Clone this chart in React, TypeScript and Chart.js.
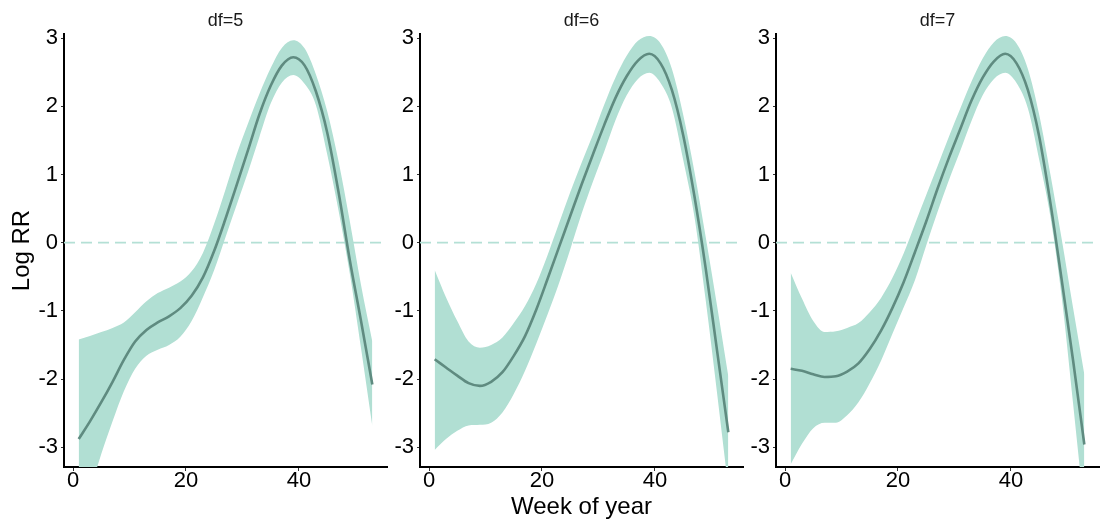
import React, { useEffect, useRef } from "react";
import { Chart, registerables } from "chart.js";

Chart.register(...registerables);

// ---------- data ----------
const WEEKS = [1, 3, 5, 7, 9, 11, 13, 15, 17, 19, 21, 23, 25, 27, 29, 31, 33, 35, 37, 39, 41, 43, 45, 47, 49, 51, 53];

const DF5_FIT = [-2.88, -2.62, -2.34, -2.04, -1.72, -1.45, -1.28, -1.17, -1.08, -0.96, -0.78, -0.51, -0.12, 0.35, 0.85, 1.36, 1.88, 2.3, 2.6, 2.72, 2.6, 2.22, 1.62, 0.75, -0.25, -1.15, -2.08];
const DF5_UPPER = [-1.42, -1.37, -1.31, -1.25, -1.17, -1.02, -0.86, -0.74, -0.66, -0.57, -0.42, -0.15, 0.28, 0.78, 1.3, 1.75, 2.18, 2.56, 2.86, 2.97, 2.85, 2.47, 1.93, 1.2, 0.32, -0.62, -1.45];
const DF5_LOWER = [-4.3, -3.65, -3.1, -2.62, -2.18, -1.85, -1.66, -1.57, -1.5, -1.38, -1.15, -0.8, -0.4, 0.08, 0.56, 1.04, 1.55, 2.04, 2.35, 2.46, 2.33, 2.02, 1.3, 0.48, -0.45, -1.55, -2.69];

const DF6_FIT = [-1.71, -1.83, -1.95, -2.06, -2.1, -2.04, -1.9, -1.66, -1.37, -0.98, -0.53, -0.07, 0.39, 0.85, 1.29, 1.72, 2.12, 2.44, 2.67, 2.77, 2.63, 2.24, 1.58, 0.68, -0.38, -1.58, -2.78];
const DF6_UPPER = [-0.4, -0.8, -1.15, -1.45, -1.54, -1.5, -1.39, -1.18, -0.93, -0.6, -0.18, 0.28, 0.74, 1.17, 1.58, 2.02, 2.42, 2.74, 2.96, 3.03, 2.92, 2.55, 1.88, 1.04, 0.08, -0.92, -1.96];
const DF6_LOWER = [-3.04, -2.88, -2.76, -2.68, -2.67, -2.64, -2.49, -2.22, -1.88, -1.48, -1.05, -0.6, -0.1, 0.42, 0.89, 1.33, 1.79, 2.16, 2.4, 2.49, 2.34, 1.98, 1.22, 0.38, -0.85, -2.2, -3.6];

const DF7_FIT = [-1.85, -1.88, -1.93, -1.97, -1.96, -1.89, -1.77, -1.56, -1.29, -0.96, -0.58, -0.14, 0.31, 0.79, 1.24, 1.66, 2.08, 2.42, 2.66, 2.77, 2.63, 2.24, 1.56, 0.58, -0.55, -1.72, -2.96];
const DF7_UPPER = [-0.44, -0.82, -1.15, -1.31, -1.3, -1.25, -1.18, -1.02, -0.81, -0.52, -0.16, 0.27, 0.7, 1.12, 1.55, 1.96, 2.36, 2.7, 2.94, 3.03, 2.92, 2.55, 1.88, 1.0, 0.05, -0.95, -1.93];
const DF7_LOWER = [-3.25, -2.95, -2.72, -2.64, -2.64, -2.53, -2.34, -2.06, -1.73, -1.34, -0.95, -0.55, -0.04, 0.45, 0.91, 1.34, 1.78, 2.16, 2.4, 2.49, 2.34, 1.97, 1.22, 0.38, -0.8, -2.35, -3.95];

const PANEL_TITLES = ["df=5", "df=6", "df=7"];
const X_TICKS = [0, 20, 40];
const Y_TICKS = [-3, -2, -1, 0, 1, 2, 3];
const X_MIN = -1.6;
const X_MAX = 55.6;
const Y_MIN = -3.29;
const Y_MAX = 3.06;
const REF_VALUE = 0;
const Y_TITLE = "Log RR";
const X_TITLE = "Week of year";

// ---------- style ----------
const FONT = "'Liberation Sans', Arial, Helvetica, sans-serif";
const BAND_COLOR = "#b1dfd3";
const LINE_COLOR = "#5f8b80";
const DASH_COLOR = "#b4e0d5";

type PanelProps = {
  title: string;
  fit: number[];
  upper: number[];
  lower: number[];
  left: number;
  width: number;
  axisWidth: number;
  padRight: number;
  yTitle?: string;
  xTitle?: string;
};

const toPts = (arr: number[]) => WEEKS.map((w, i) => ({ x: w, y: arr[i] }));

function Panel(p: PanelProps) {
  const ref = useRef<HTMLCanvasElement | null>(null);
  useEffect(() => {
    if (!ref.current) return;
    // Chart.js draws datasets last-to-first: index 0 ends up on top.
    const chart = new Chart(ref.current, {
      type: "line",
      data: {
        datasets: [
          {
            data: toPts(p.fit),
            borderColor: LINE_COLOR,
            borderWidth: 2.6,
            pointRadius: 0,
            fill: false,
            cubicInterpolationMode: "monotone",
          },
          {
            data: toPts(p.lower),
            borderColor: "rgba(0,0,0,0)",
            borderWidth: 0,
            pointRadius: 0,
            fill: "+1",
            backgroundColor: BAND_COLOR,
            cubicInterpolationMode: "monotone",
          },
          {
            data: toPts(p.upper),
            borderColor: "rgba(0,0,0,0)",
            borderWidth: 0,
            pointRadius: 0,
            fill: false,
            cubicInterpolationMode: "monotone",
          },
          {
            data: [
              { x: X_MIN, y: REF_VALUE },
              { x: X_MAX, y: REF_VALUE },
            ],
            borderColor: DASH_COLOR,
            borderWidth: 1.6,
            borderDash: [11, 6],
            pointRadius: 0,
            fill: false,
            tension: 0,
          },
        ],
      } as any,
      options: {
        animation: false,
        responsive: false,
        events: [],
        layout: {
          autoPadding: false,
          padding: { top: 0, right: p.padRight, bottom: 0, left: 0 },
        },
        plugins: {
          legend: { display: false },
          tooltip: { enabled: false },
          title: {
            display: true,
            text: p.title,
            fullSize: false,
            color: "#1a1a1a",
            font: { size: 18, family: FONT, weight: "normal", lineHeight: 1.2 },
            padding: { top: 10.2, bottom: 2.2 },
          },
        },
        scales: {
          x: {
            type: "linear",
            min: X_MIN,
            max: X_MAX,
            afterBuildTicks: (s: any) => {
              s.ticks = X_TICKS.map((v) => ({ value: v }));
            },
            afterFit: (s: any) => {
              s.height = 58;
            },
            grid: {
              drawOnChartArea: false,
              drawTicks: true,
              tickLength: 4,
              tickColor: "#333",
              tickWidth: 1,
            },
            border: { display: true, color: "#000", width: 2 },
            ticks: {
              autoSkip: false,
              maxRotation: 0,
              padding: -3,
              color: "#000",
              font: { size: 22, family: FONT },
            },
            title: {
              display: !!p.xTitle,
              text: p.xTitle || "",
              color: "#000",
              font: { size: 24, family: FONT, lineHeight: 1.2 },
              padding: { top: 0, bottom: 3.6 },
            },
          },
          y: {
            type: "linear",
            min: Y_MIN,
            max: Y_MAX,
            afterBuildTicks: (s: any) => {
              s.ticks = Y_TICKS.map((v) => ({ value: v }));
            },
            afterFit: (s: any) => {
              s.width = p.axisWidth;
            },
            grid: {
              drawOnChartArea: false,
              drawTicks: true,
              tickLength: 3,
              tickColor: "#333",
              tickWidth: 1,
            },
            border: { display: true, color: "#000", width: 2 },
            ticks: {
              padding: 3,
              color: "#000",
              font: { size: 22, family: FONT },
            },
            title: {
              display: !!p.yTitle,
              text: p.yTitle || "",
              color: "#000",
              font: { size: 24, family: FONT, lineHeight: 1.2 },
              padding: { top: 7.6, bottom: 0 },
            },
          },
        },
      } as any,
    });
    return () => chart.destroy();
  }, []);
  return (
    <canvas
      ref={ref}
      width={p.width}
      height={525}
      style={{ position: "absolute", left: p.left, top: 0, width: p.width, height: 525 }}
    />
  );
}

export default function App() {
  return (
    <div
      style={{
        position: "absolute",
        left: 0,
        top: 0,
        width: 1100,
        height: 525,
        background: "#fff",
        overflow: "hidden",
      }}
    >
      <Panel
        title={PANEL_TITLES[0]}
        fit={DF5_FIT}
        upper={DF5_UPPER}
        lower={DF5_LOWER}
        left={0}
        width={390}
        axisWidth={64}
        padRight={3}
        yTitle={Y_TITLE}
      />
      <Panel
        title={PANEL_TITLES[1]}
        fit={DF6_FIT}
        upper={DF6_UPPER}
        lower={DF6_LOWER}
        left={390}
        width={356}
        axisWidth={30}
        padRight={3}
        xTitle={X_TITLE}
      />
      <Panel
        title={PANEL_TITLES[2]}
        fit={DF7_FIT}
        upper={DF7_UPPER}
        lower={DF7_LOWER}
        left={746}
        width={354}
        axisWidth={30}
        padRight={1}
      />
    </div>
  );
}
